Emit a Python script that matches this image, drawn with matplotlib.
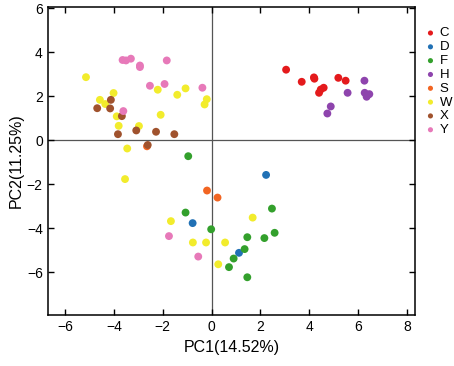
import numpy as np
import matplotlib.pyplot as plt

plt.rcParams['font.family'] = ['Liberation Sans', 'DejaVu Sans']

groups = ["C", "D", "F", "H", "S", "W", "X", "Y"]
colors = ["#e41a1c", "#2171b5", "#33a02c", "#8e44ad", "#f26522", "#f2ec2c", "#a0522d", "#e779b9"]

c_x = [3.05, 3.69, 4.19, 4.21, 5.19, 5.49, 4.40, 4.47, 4.59]
c_y = [3.20, 2.65, 2.85, 2.79, 2.83, 2.70, 2.15, 2.30, 2.38]
d_x = [2.23, -0.78, 1.12]
d_y = [-1.58, -3.77, -5.12]
f_x = [-0.96, -1.07, -0.02, 2.47, 2.58, 2.16, 1.46, 1.35, 0.90, 0.71, 1.46]
f_y = [-0.73, -3.29, -4.05, -3.11, -4.21, -4.45, -4.41, -4.95, -5.38, -5.77, -6.23]
h_x = [6.26, 5.57, 6.27, 6.35, 6.46, 6.38, 4.88, 4.74]
h_y = [2.70, 2.15, 2.15, 1.97, 2.09, 2.05, 1.53, 1.21]
s_x = [-2.65, -0.19, 0.24]
s_y = [-0.28, -2.29, -2.61]
w_x = [-5.15, -4.58, -4.36, -4.02, -3.89, -3.81, -3.46, -2.98, -2.21, -2.09, -1.41, -1.07,
       -0.20, -0.29, -3.55, -1.67, -0.77, -0.23, 0.27, 1.68, 0.55]
w_y = [2.86, 1.83, 1.64, 2.14, 1.08, 0.65, -0.38, 0.64, 2.29, 1.15, 2.06, 2.35,
       1.86, 1.62, -1.77, -3.68, -4.65, -4.65, -5.64, -3.52, -4.65]
x_x = [-4.69, -4.13, -4.16, -3.68, -3.84, -3.09, -2.28, -1.53, -2.62]
x_y = [1.45, 1.83, 1.44, 1.09, 0.27, 0.44, 0.38, 0.27, -0.22]
y_x = [-3.65, -3.51, -3.31, -2.94, -2.94, -1.84, -2.53, -1.93, -0.38, -3.62, -1.75, -0.55]
y_y = [3.64, 3.62, 3.70, 3.39, 3.32, 3.62, 2.47, 2.55, 2.38, 1.32, -4.36, -5.29]

xs = [c_x, d_x, f_x, h_x, s_x, w_x, x_x, y_x]
ys = [c_y, d_y, f_y, h_y, s_y, w_y, x_y, y_y]

fig = plt.figure(figsize=(4.54, 3.66), dpi=100)
ax = fig.add_axes([0.105, 0.139, 0.809, 0.842])

ax.axhline(0, color="#555555", lw=0.9, zorder=1)
ax.axvline(0, color="#555555", lw=0.9, zorder=1)

for g, col, gx, gy in zip(groups, colors, xs, ys):
    ax.scatter(gx, gy, s=32, color=col, edgecolors="none", label=g, zorder=3)

ax.set_xlim(-6.72, 8.33)
ax.set_ylim(-7.95, 6.05)
ax.set_xticks([-6, -4, -2, 0, 2, 4, 6, 8])
ax.set_yticks([-6, -4, -2, 0, 2, 4, 6])
ax.tick_params(direction="in", top=True, right=True, length=4, width=1, labelsize=10)
for sp in ax.spines.values():
    sp.set_linewidth(1.1)

ax.set_xlabel("PC1(14.52%)", fontsize=11.5, labelpad=4)
ax.set_ylabel("PC2(11.25%)", fontsize=11.5, labelpad=2)

fig.legend(loc="upper left", bbox_to_anchor=(0.922, 0.94), frameon=False, fontsize=9.5,
           handletextpad=0.2, labelspacing=0.12, markerscale=0.65, borderaxespad=0,
           handlelength=1.0)

plt.savefig("out.png", dpi=100)
